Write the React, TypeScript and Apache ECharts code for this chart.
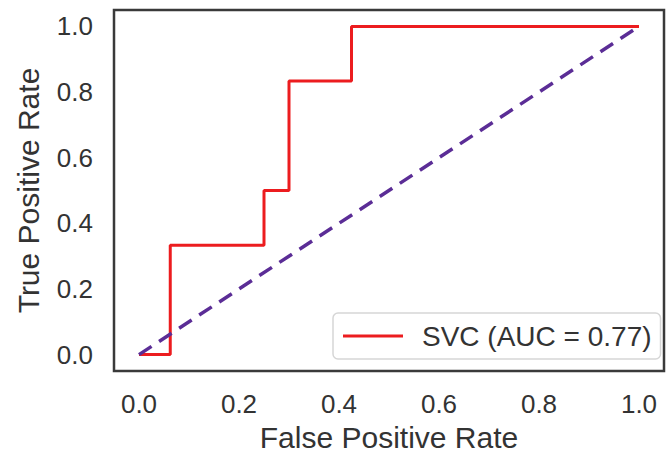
import React, { useEffect, useRef } from "react";
import * as echarts from "echarts";

// ROC curve of the SVC classifier (step points)
const fpr = [0, 0.0625, 0.0625, 0.25, 0.25, 0.3, 0.3, 0.425, 0.425, 1.0];
const tpr = [0, 0, 0.3333, 0.3333, 0.5, 0.5, 0.8333, 0.8333, 1.0, 1.0];
// chance diagonal
const chanceX = [0, 1];
const chanceY = [0, 1];

const seriesName = "SVC (AUC = 0.77)";
const xTitle = "False Positive Rate";
const yTitle = "True Positive Rate";
const tickLabels = ["0.0", "0.2", "0.4", "0.6", "0.8", "1.0"];

const FONT = "'Liberation Sans', Arial, Helvetica, sans-serif";
const TEXT = "#333333";
const RED = "#ec1c1f";

function tickFormatter(v: number): string {
  const k = v / 0.2;
  if (v < -1e-9 || Math.abs(k - Math.round(k)) > 1e-6) return "";
  return tickLabels[Math.round(k)] ?? "";
}

export default function App() {
  const ref = useRef<HTMLDivElement>(null);

  useEffect(() => {
    if (!ref.current) return;
    const chart = echarts.init(ref.current, null, { renderer: "svg" });
    chart.setOption({
      animation: false,
      backgroundColor: "#ffffff",
      grid: {
        show: true,
        left: 114,
        top: 10,
        width: 560,
        height: 364,
        borderColor: "#3a3a3a",
        borderWidth: 2.5,
        backgroundColor: "#ffffff",
      },
      xAxis: {
        type: "value",
        min: -0.05,
        max: 1.05,
        interval: 0.05,
        name: xTitle,
        nameLocation: "middle",
        nameGap: 51,
        nameTextStyle: { fontSize: 30, color: TEXT, fontFamily: FONT },
        axisLine: { show: false },
        axisTick: { show: false },
        splitLine: { show: false },
        axisLabel: {
          formatter: tickFormatter,
          fontSize: 26,
          color: TEXT,
          fontFamily: FONT,
          margin: 20,
          showMinLabel: true,
          showMaxLabel: true,
        },
      },
      yAxis: {
        type: "value",
        min: -0.05,
        max: 1.05,
        interval: 0.05,
        name: yTitle,
        nameLocation: "middle",
        nameGap: 71,
        nameTextStyle: { fontSize: 30, color: TEXT, fontFamily: FONT },
        axisLine: { show: false },
        axisTick: { show: false },
        splitLine: { show: false },
        axisLabel: {
          formatter: tickFormatter,
          fontSize: 26,
          color: TEXT,
          fontFamily: FONT,
          margin: 21,
        },
      },
      legend: {
        left: 333,
        top: 313,
        data: [{ name: seriesName, icon: "path://M0,0 H60 V3 H0 Z" }],
        backgroundColor: "#ffffff",
        borderColor: "#d6d6d6",
        borderWidth: 1.5,
        borderRadius: 5,
        padding: [9, 9, 9, 10],
        itemWidth: 60,
        itemHeight: 3,
        itemStyle: { color: RED },
        textStyle: {
          fontSize: 28,
          color: TEXT,
          fontFamily: FONT,
          padding: [0, 0, 0, 14],
        },
      },
      series: [
        {
          name: seriesName,
          type: "line",
          data: fpr.map((x, i) => [x, tpr[i]]),
          symbol: "none",
          lineStyle: { color: RED, width: 3 },
          itemStyle: { color: RED },
          z: 2,
        },
        {
          name: "chance",
          type: "line",
          data: chanceX.map((x, i) => [x, chanceY[i]]),
          symbol: "none",
          lineStyle: { color: "#5b2d96", width: 3.5, type: [15, 9] },
          z: 3,
        },
      ],
    });
    return () => chart.dispose();
  }, []);

  return (
    <div
      ref={ref}
      style={{ position: "fixed", left: 0, top: 0, width: 667, height: 457, background: "#fff" }}
    />
  );
}
